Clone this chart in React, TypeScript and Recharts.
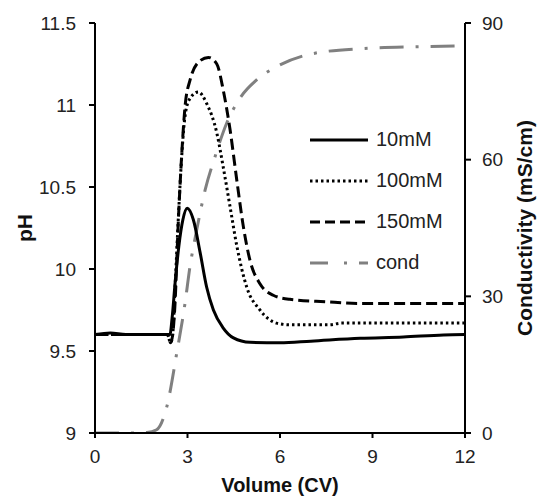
import React from 'react';
import { LineChart, Line, XAxis, YAxis, Legend } from 'recharts';

// values
const vol10 = [0, 0.5, 1, 1.5, 2, 2.43, 2.5, 2.6, 2.72, 2.85, 2.99, 3.19, 3.41, 3.62, 3.84, 4.16, 4.49, 5.03, 6.0, 7.0, 8.6, 10, 11.3, 12];
const ph10 = [9.6, 9.61, 9.6, 9.6, 9.6, 9.6, 9.7, 9.92, 10.14, 10.3, 10.37, 10.3, 10.1, 9.89, 9.75, 9.64, 9.58, 9.553, 9.55, 9.56, 9.577, 9.585, 9.598, 9.6];

const vol100 = [0, 1, 2, 2.35, 2.45, 2.52, 2.6, 2.7, 2.8, 2.9, 3.05, 3.35, 3.62, 3.95, 4.16, 4.38, 4.6, 4.92, 5.35, 5.89, 6.32, 7.6, 8.0, 12];
const ph100 = [9.6, 9.6, 9.6, 9.6, 9.55, 9.6, 9.9, 10.3, 10.65, 10.9, 11.03, 11.08, 11.01, 10.83, 10.62, 10.38, 10.14, 9.89, 9.75, 9.67, 9.66, 9.66, 9.67, 9.67];

const vol150 = [0, 1, 2, 2.35, 2.45, 2.52, 2.59, 2.7, 2.81, 2.92, 3.08, 3.41, 3.68, 3.95, 4.16, 4.38, 4.6, 4.81, 5.03, 5.35, 5.78, 6.32, 7.5, 8.6, 12];
const ph150 = [9.6, 9.6, 9.6, 9.6, 9.55, 9.6, 9.77, 10.28, 10.69, 10.99, 11.15, 11.27, 11.29, 11.25, 11.09, 10.85, 10.54, 10.26, 10.05, 9.91, 9.84, 9.815, 9.8, 9.79, 9.79];

const volCond = [0, 1, 1.68, 2.0, 2.33, 2.65, 2.92, 3.08, 3.3, 3.57, 3.89, 4.27, 4.7, 5.24, 5.89, 7.08, 8.7, 10.5, 12];
const cond = [0, 0, 0.1, 0.7, 5.8, 17.5, 28.5, 36.5, 44.6, 53.3, 60.6, 68.0, 73.5, 77.5, 80.4, 83.3, 84.4, 84.8, 85.0];

const xTicks = [0, 3, 6, 9, 12];
const phTicks = [9, 9.5, 10, 10.5, 11, 11.5];
const condTicks = [0, 30, 60, 90];

const toRows = (xs: number[], ys: number[], key: string) =>
  xs.map((x, i) => ({ vol: x, [key]: ys[i] }));

const FONT = '"Liberation Sans", Arial, sans-serif';
const GREY = '#808080';

const series = [
  { name: '10mM', dash: undefined, color: '#000' },
  { name: '100mM', dash: '2.5 3', color: '#000' },
  { name: '150mM', dash: '10 5', color: '#000' },
  { name: 'cond', dash: '18 16 3 12', color: GREY },
];

const renderLegend = () => (
  <div style={{ fontFamily: FONT, fontSize: 20, color: '#222' }}>
    {series.map((s) => (
      <div key={s.name} style={{ display: 'flex', alignItems: 'center', height: 41 }}>
        <svg width={60} height={10} style={{ marginRight: 6 }}>
          <line x1={0} y1={5} x2={58} y2={5} stroke={s.color} strokeWidth={3} strokeDasharray={s.dash} />
        </svg>
        <span>{s.name}</span>
      </div>
    ))}
  </div>
);

const tickStyle = { fontSize: 19, fill: '#222', fontFamily: FONT };
const axisLine = { stroke: '#000', strokeWidth: 2 };

export default function App() {
  return (
    <div style={{ position: 'absolute', left: 0, top: 0, background: '#fff' }}>
      <LineChart width={537} height={498} margin={{ top: 23, right: 12, bottom: 25, left: 35 }}>
        <XAxis
          dataKey="vol"
          type="number"
          domain={[0, 12]}
          ticks={xTicks}
          allowDataOverflow
          height={40}
          tick={tickStyle}
          tickSize={5}
          tickMargin={12}
          axisLine={axisLine}
          tickLine={axisLine}
          label={{
            content: () => (
              <text x={280} y={485} textAnchor="middle" dominantBaseline="central"
                style={{ fontFamily: FONT, fontSize: 20, fontWeight: 'bold', fill: '#111' }}>
                Volume (CV)
              </text>
            ),
          }}
        />
        <YAxis
          yAxisId="ph"
          domain={[9, 11.5]}
          ticks={phTicks}
          allowDataOverflow
          width={60}
          tick={tickStyle}
          tickSize={6}
          tickMargin={13}
          axisLine={axisLine}
          tickLine={axisLine}
          label={{
            content: () => (
              <text x={24} y={228} textAnchor="middle" dominantBaseline="central"
                transform="rotate(-90, 24, 228)"
                style={{ fontFamily: FONT, fontSize: 21, fontWeight: 'bold', fill: '#111' }}>
                pH
              </text>
            ),
          }}
        />
        <YAxis
          yAxisId="cond"
          orientation="right"
          domain={[0, 90]}
          ticks={condTicks}
          allowDataOverflow
          width={60}
          tick={tickStyle}
          tickSize={6}
          tickMargin={11}
          axisLine={axisLine}
          tickLine={axisLine}
          label={{
            content: () => (
              <text x={524} y={228} textAnchor="middle" dominantBaseline="central"
                transform="rotate(-90, 524, 228)"
                style={{ fontFamily: FONT, fontSize: 21, fontWeight: 'bold', fill: '#111' }}>
                Conductivity (mS/cm)
              </text>
            ),
          }}
        />
        <Legend
          layout="vertical"
          align="center"
          verticalAlign="middle"
          content={renderLegend}
          wrapperStyle={{ left: 310, top: 119, width: 'auto' }}
        />
        <Line
          yAxisId="cond"
          data={toRows(volCond, cond, 'cond')}
          dataKey="cond"
          name="cond"
          type="monotone"
          stroke={GREY}
          strokeWidth={3}
          strokeDasharray="24 12 3 12"
          dot={false}
          isAnimationActive={false}
        />
        <Line
          yAxisId="ph"
          data={toRows(vol10, ph10, 'ph')}
          dataKey="ph"
          name="10mM"
          type="monotone"
          stroke="#000"
          strokeWidth={3}
          dot={false}
          isAnimationActive={false}
        />
        <Line
          yAxisId="ph"
          data={toRows(vol100, ph100, 'ph')}
          dataKey="ph"
          name="100mM"
          type="monotone"
          stroke="#000"
          strokeWidth={3}
          strokeDasharray="2.5 3"
          dot={false}
          isAnimationActive={false}
        />
        <Line
          yAxisId="ph"
          data={toRows(vol150, ph150, 'ph')}
          dataKey="ph"
          name="150mM"
          type="monotone"
          stroke="#000"
          strokeWidth={3}
          strokeDasharray="11 5"
          dot={false}
          isAnimationActive={false}
        />
      </LineChart>
    </div>
  );
}
